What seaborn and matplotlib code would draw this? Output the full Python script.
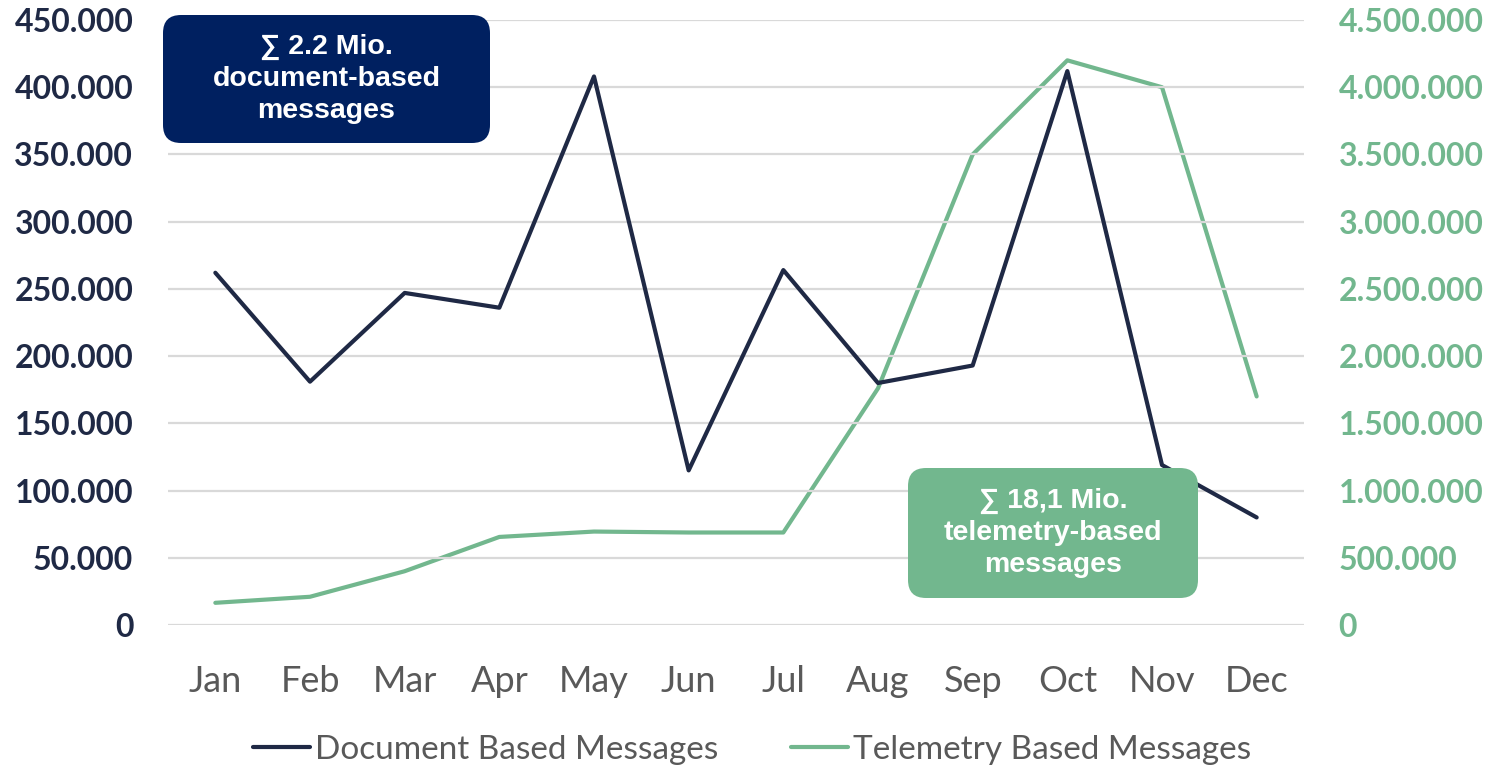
import pandas as pd
import matplotlib
matplotlib.use("Agg")
import matplotlib.pyplot as plt
from matplotlib.patches import FancyBboxPatch
from matplotlib.transforms import IdentityTransform
from matplotlib.ticker import FuncFormatter
import seaborn as sns

# data
months = ["Jan", "Feb", "Mar", "Apr", "May", "Jun",
          "Jul", "Aug", "Sep", "Oct", "Nov", "Dec"]
document_msgs = [262000, 181000, 247000, 236000, 408000, 115000,
                 264000, 180000, 193000, 412000, 119000, 80000]
telemetry_msgs = [165000, 210000, 400000, 655000, 695000, 688000,
                  688000, 1760000, 3500000, 4200000, 4000000, 1700000]

left_ticks = [0, 50000, 100000, 150000, 200000, 250000, 300000, 350000, 400000, 450000]
right_ticks = [0, 500000, 1000000, 1500000, 2000000, 2500000, 3000000, 3500000, 4000000, 4500000]

DARK = "#1F2945"
GREEN = "#72B78E"
NAVY = "#002060"
GREY = "#595959"

sns.set_style("white")
plt.rcParams["font.family"] = ["Lato", "DejaVu Sans"]

df = pd.DataFrame({"month": months, "doc": document_msgs, "tel": telemetry_msgs})

W, H = 1499, 774
fig = plt.figure(figsize=(W / 100, H / 100), dpi=100)
ax = fig.add_axes([168 / W, 1 - 625 / H, (1304 - 168) / W, (625 - 20) / H])
ax2 = ax.twinx()

sns.lineplot(data=df, x="month", y="doc", ax=ax, color=DARK, linewidth=3,
             sort=False, label="Document Based Messages", legend=False)
sns.lineplot(data=df, x="month", y="tel", ax=ax2, color=GREEN, linewidth=3,
             sort=False, label="Telemetry Based Messages", legend=False)

ax.set_xlim(-0.5, 11.5)
ax.set_ylim(0, 450000)
ax2.set_ylim(0, 4500000)
ax.set_yticks(left_ticks)
ax2.set_yticks(right_ticks)

fmt = FuncFormatter(lambda v, p: f"{int(v):,}".replace(",", "."))
ax.yaxis.set_major_formatter(fmt)
ax2.yaxis.set_major_formatter(fmt)

ax.grid(axis="y", color="#D9D9D9", linewidth=1.6)
ax.grid(axis="x", visible=False)
ax2.grid(False)
ax.set_zorder(ax2.get_zorder() + 1)
ax.patch.set_visible(False)

for a in (ax, ax2):
    for s in a.spines.values():
        s.set_visible(False)
    a.set_xlabel("")
    a.set_ylabel("")
    a.tick_params(length=0)

ax.tick_params(axis="y", labelsize=23, labelcolor=DARK, pad=25)
ax2.tick_params(axis="y", labelsize=23, labelcolor=GREEN, pad=25)
for t in ax.get_yticklabels():
    t.set_fontweight("bold")
for t in ax2.get_yticklabels():
    t.set_fontweight("bold")
ax.tick_params(axis="x", labelsize=26, labelcolor=GREY, pad=29)

# legend below the plot
h1, l1 = ax.get_legend_handles_labels()
h2, l2 = ax2.get_legend_handles_labels()
leg = fig.legend(h1 + h2, l1 + l2, loc="center", bbox_to_anchor=(752 / W, 1 - 750 / H),
                 ncol=2, frameon=False, fontsize=24, handlelength=1.7,
                 handletextpad=0.15, columnspacing=2.2)
for t in leg.get_texts():
    t.set_color(GREY)
for ln in leg.get_lines():
    ln.set_linewidth(3)
    ln.set_solid_capstyle("round")

# summary boxes
def summary_box(x0, y0, x1, y1, color, text):
    box = FancyBboxPatch((x0, H - y1), x1 - x0, y1 - y0,
                         boxstyle="round,pad=0,rounding_size=18",
                         transform=IdentityTransform(), facecolor=color,
                         edgecolor="none", zorder=5)
    fig.patches.append(box)
    fig.text((x0 + x1) / 2 / W, 1 - (y0 + y1) / 2 / H, text, ha="center", va="center",
             color="white", fontsize=20.5, fontweight="bold",
             family=["Liberation Sans", "DejaVu Sans"], linespacing=1.3, zorder=6)

summary_box(163, 15, 490, 143, NAVY, "∑ 2.2 Mio.\ndocument-based\nmessages")
summary_box(908, 468, 1198, 598, GREEN, "∑ 18,1 Mio.\ntelemetry-based\nmessages")

fig.savefig("out.png", dpi=100)
